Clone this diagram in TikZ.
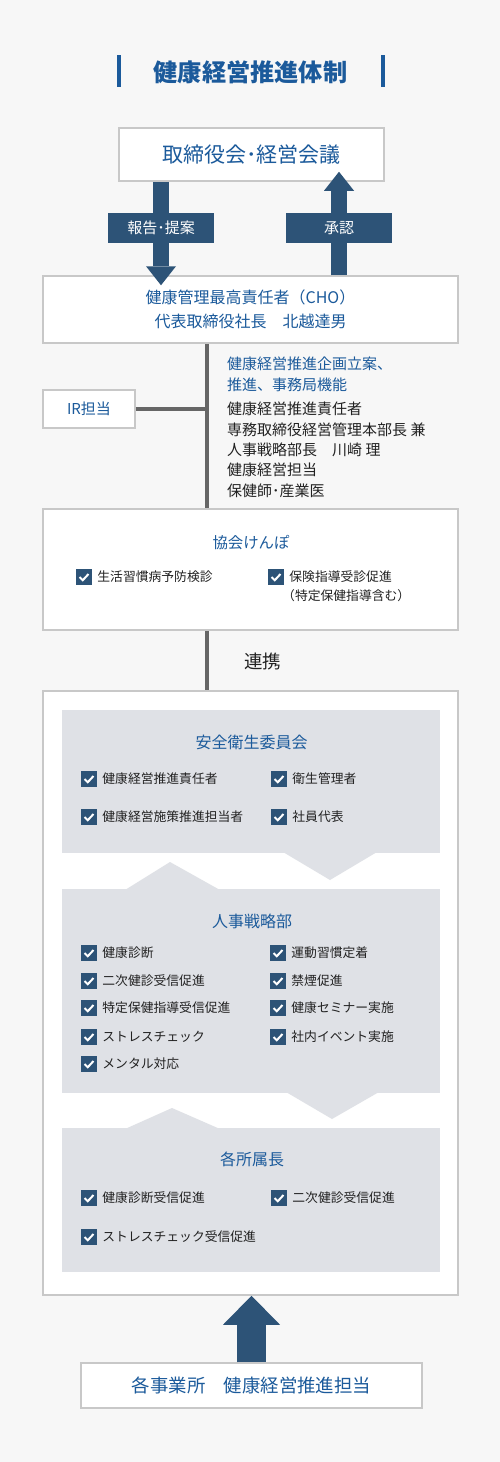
\documentclass[tikz,border=0pt]{standalone}
\usepackage{fontspec}
\setmainfont{Noto Sans CJK JP}
\usetikzlibrary{positioning,arrows.meta}

\definecolor{bgcol}{RGB}{247,247,247}
\definecolor{boxgray}{RGB}{200,200,200}
\definecolor{txtblue}{RGB}{27,90,155}
\definecolor{arrowblue}{RGB}{45,83,119}
\definecolor{panelgray}{RGB}{223,225,230}
\definecolor{spinegray}{RGB}{102,102,102}
\definecolor{txtblack}{RGB}{34,34,34}

\begin{document}
\begin{tikzpicture}[x=1pt,y=-1pt,
    box/.style={draw=boxgray,line width=1.5pt,fill=white,inner sep=0pt,text=txtblue,align=center},
    tag/.style={fill=arrowblue,text=white,inner sep=0pt,minimum width=106pt,minimum height=30pt,font=\fontsize{15}{17}\selectfont},
    panel/.style={fill=panelgray,inner sep=0pt,minimum width=378pt},
    head/.style={text=txtblue,inner sep=0pt,font=\fontsize{16}{18}\selectfont},
    item/.style={text=txtblack,inner sep=0pt,anchor=west,font=\fontsize{12.8}{15}\selectfont},
    chkbox/.style={fill=arrowblue,inner sep=0pt,minimum size=16pt,
      path picture={\draw[white,line width=2pt]
        ([shift={(3.5pt,8pt)}]path picture bounding box.south west) --
        ([shift={(6.8pt,4.8pt)}]path picture bounding box.south west) --
        ([shift={(12.5pt,11pt)}]path picture bounding box.south west);}},
    bigarrow/.style={draw=arrowblue,line width=16pt,-{Triangle[width=30pt,length=19pt,line width=0pt]}},
    spine/.style={draw=spinegray,line width=4pt},
    titlebar/.style={draw=txtblue,line width=4pt}]

  \useasboundingbox (0,0) rectangle (500,1462);
  \fill[bgcol] (0,0) rectangle (500,1462);

  % title
  \node[text=txtblue,inner sep=0pt,font=\bfseries\fontsize{24.2}{26}\selectfont] (title) at (250.5,72) {健康経営推進体制};
  \draw[titlebar] (119,55) -- (119,87);
  \draw[titlebar] (383,55) -- (383,87);

  % board and CHO
  \node[box,minimum width=265pt,minimum height=53pt,font=\fontsize{21}{23}\selectfont] (board) at (251.5,154.5) {取締役会･経営会議};
  \node[box,minimum width=415pt,minimum height=67pt,font=\fontsize{16}{23.5}\selectfont] (cho) at (250.5,309.5) {健康管理最高責任者（CHO）\\代表取締役社長　北越達男};

  \node[tag] (report) at (161,228) {};
  \node[tag] (approve) at (339,228) {};
  \draw[bigarrow,shorten >=-10pt] (board.south -| report) -- (cho.north -| report);
  \draw[bigarrow,shorten >=-10pt] (cho.north -| approve) -- (board.south -| approve);
  \node[tag] at (report) {報告･提案};
  \node[tag] at (approve) {承認};

  % secretariat
  \coordinate (axis) at (207,0);
  \node[box,minimum width=92pt,minimum height=38pt,font=\fontsize{15}{17}\selectfont] (ir) at (89,409) {IR担当};
  \node[text=txtblue,inner sep=0pt,anchor=north west,align=left,font=\fontsize{15}{21}\selectfont] (plan) at (227,357)
    {健康経営推進企画立案、\\推進、事務局機能};
  \node[text=txtblack,inner sep=0pt,anchor=north west,align=left,font=\fontsize{15}{20.3}\selectfont] (staff) at (227,402)
    {健康経営推進責任者\\専務取締役経営管理本部長 兼\\人事戦略部長　川崎 理\\健康経営担当\\保健師･産業医};

  % kyokai kenpo
  \node[box,minimum width=415pt,minimum height=121pt] (kenpo) at (250.5,569.5) {};
  \node[head,font=\fontsize{15.4}{18}\selectfont] (kenpot) at (251,543) {協会けんぽ};
  \node[chkbox] (k01) at (84,577) {};
  \node[item,right=5pt of k01] (i01) {生活習慣病予防検診};
  \node[chkbox] (k02) at (276,577) {};
  \node[item,right=5pt of k02] (i02) {保険指導受診促進};
  \node[item] (i03) at (282,596) {（特定保健指導含む）};

  \draw[spine] (cho.south -| axis) -- (kenpo.north -| axis);
  \draw[spine] (ir.east) -- (ir.east -| axis);

  % big frame
  \node[box,minimum width=415pt,minimum height=604pt] (frame) at (250.5,993) {};
  \draw[spine] (kenpo.south -| axis) -- (frame.north -| axis);
  \node[inner sep=0pt,text=txtblack,font=\fontsize{18.5}{20}\selectfont] (link) at (262.5,661) {連携};

  % panels
  \node[panel,minimum height=143pt] (p1) at (251,781.5) {};
  \node[panel,minimum height=204pt] (p2) at (251,991) {};
  \node[panel,minimum height=144pt] (p3) at (251,1200) {};
  \fill[panelgray] (283,852) -- (330,880) -- (377,852) -- cycle;
  \fill[panelgray] (125,890) -- (170,862) -- (220,890) -- cycle;
  \fill[panelgray] (286,1092) -- (332,1119) -- (379,1092) -- cycle;
  \fill[panelgray] (125,1129) -- (172,1108) -- (220,1129) -- cycle;

  % safety committee
  \node[head] (p1t) at (251.5,742) {安全衛生委員会};
  \node[chkbox] (k11) at (89,779) {};
  \node[item,right=5pt of k11] (i11) {健康経営推進責任者};
  \node[chkbox] (k12) at (279,779) {};
  \node[item,right=5pt of k12] (i12) {衛生管理者};
  \node[chkbox] (k13) at (89,817) {};
  \node[item,right=5pt of k13] (i13) {健康経営施策推進担当者};
  \node[chkbox] (k14) at (279,817) {};
  \node[item,right=5pt of k14] (i14) {社員代表};

  % HR strategy
  \node[head] (p2t) at (252,921) {人事戦略部};
  \node[chkbox] (k21) at (89,953) {};
  \node[item,right=5pt of k21] (i21) {健康診断};
  \node[chkbox] (k22) at (278,953) {};
  \node[item,right=5pt of k22] (i22) {運動習慣定着};
  \node[chkbox] (k23) at (89,981) {};
  \node[item,right=5pt of k23] (i23) {二次健診受信促進};
  \node[chkbox] (k24) at (278,981) {};
  \node[item,right=5pt of k24] (i24) {禁煙促進};
  \node[chkbox] (k25) at (89,1008) {};
  \node[item,right=5pt of k25] (i25) {特定保健指導受信促進};
  \node[chkbox] (k26) at (278,1008) {};
  \node[item,right=5pt of k26] (i26) {健康セミナー実施};
  \node[chkbox] (k27) at (89,1037) {};
  \node[item,right=5pt of k27] (i27) {ストレスチェック};
  \node[chkbox] (k28) at (278,1037) {};
  \node[item,right=5pt of k28] (i28) {社内イベント実施};
  \node[chkbox] (k29) at (89,1064) {};
  \node[item,right=5pt of k29] (i29) {メンタル対応};

  % site heads
  \node[head] (p3t) at (252,1159) {各所属長};
  \node[chkbox] (k31) at (89,1198) {};
  \node[item,right=5pt of k31] (i31) {健康診断受信促進};
  \node[chkbox] (k32) at (279,1198) {};
  \node[item,right=5pt of k32] (i32) {二次健診受信促進};
  \node[chkbox] (k33) at (89,1237) {};
  \node[item,right=5pt of k33] (i33) {ストレスチェック受信促進};

  % offices
  \node[box,minimum width=341pt,minimum height=45pt,font=\fontsize{18.4}{20}\selectfont] (office) at (251.5,1385.5) {各事業所　健康経営推進担当};
  \draw[draw=arrowblue,line width=29pt,-{Triangle[width=57pt,length=29pt,line width=0pt]}] (office.north) -- (office.north |- frame.south);
\end{tikzpicture}
\end{document}
